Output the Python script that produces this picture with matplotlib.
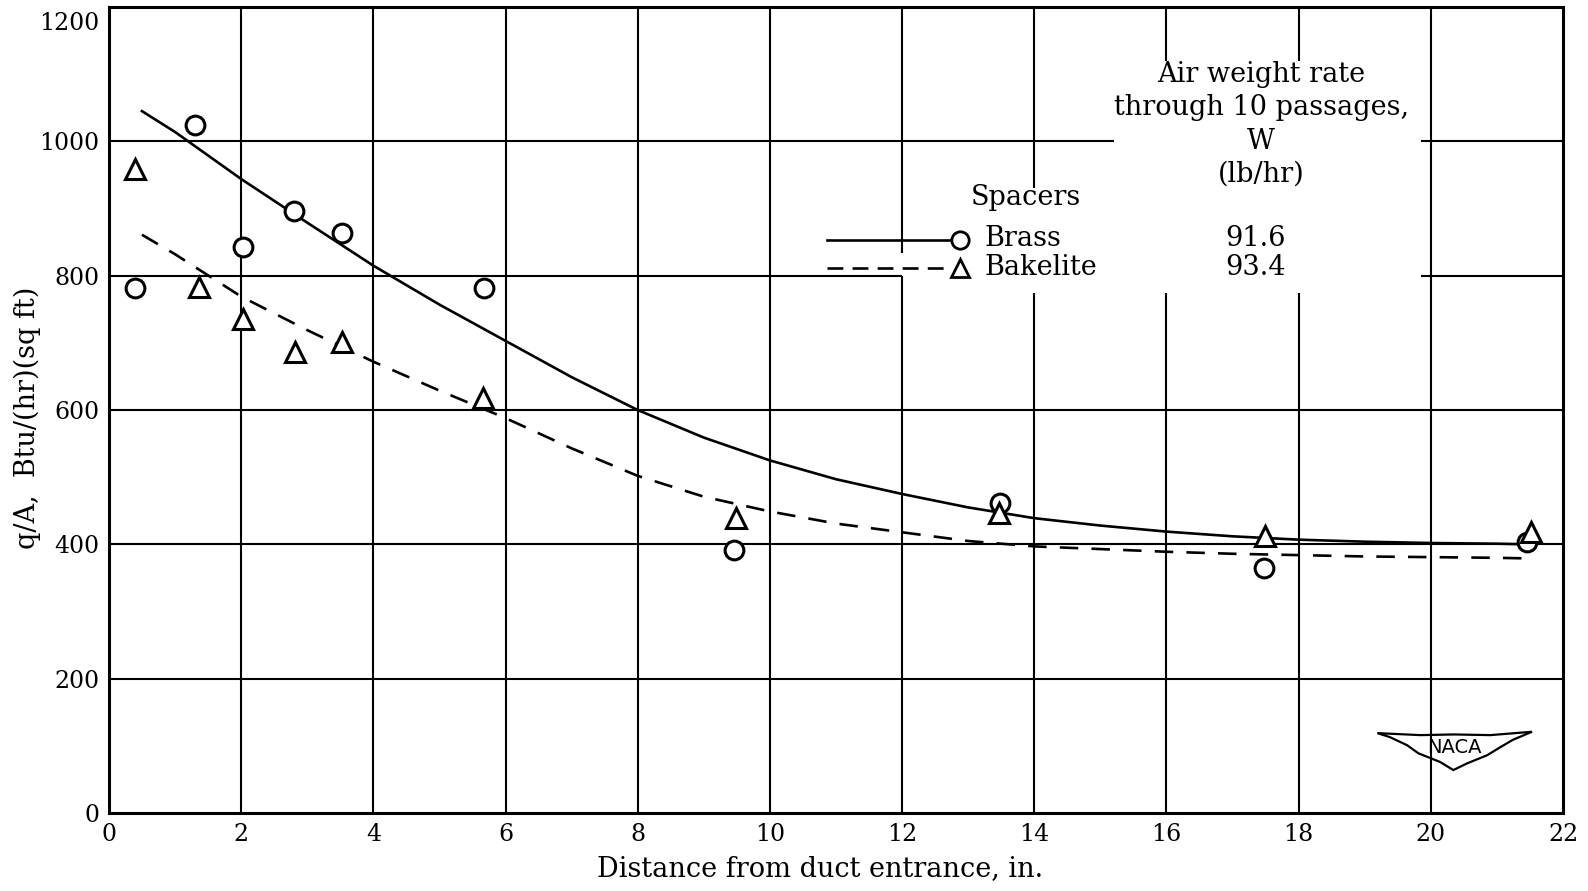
import numpy as np
import matplotlib
matplotlib.use("Agg")
import matplotlib.pyplot as plt
from matplotlib.patches import Polygon
import matplotlib.transforms as mtransforms

plt.rcParams['font.family'] = ['DejaVu Serif']

# measured points, brass spacers (circles)
brass_x = [0.40, 1.30, 2.03, 2.80, 3.53, 5.68, 9.46, 13.48, 17.47, 21.46]
brass_y = [782, 1024, 843, 896, 863, 781, 392, 461, 365, 404]

# measured points, bakelite spacers (triangles)
bake_x = [0.40, 1.36, 2.03, 2.81, 3.53, 5.66, 9.48, 13.46, 17.49, 21.52]
bake_y = [959, 783, 735, 686, 701, 618, 440, 446, 412, 418]

# faired curves
fit_x = [0.5, 1, 2, 3, 4, 5, 6, 7, 8, 9, 10, 11, 12, 13, 14, 15, 16, 17,
         18, 19, 20, 21, 21.5]
brass_fit = [1045, 1014, 944, 879, 815, 757, 703, 649, 600, 559, 525, 497,
             475, 455, 439, 428, 419, 412, 407, 404, 402, 401, 400]
bake_fit = [861, 832, 769, 719, 672, 629, 588, 543, 502, 471, 449, 431,
            418, 405, 397, 393, 389, 386, 384, 382, 381, 380, 379]

air_rate = ["91.6", "93.4"]

fig = plt.figure(figsize=(15.88, 8.91), dpi=100)
ax = fig.add_axes([0.0686, 0.0875, 0.9157, 0.9046])
ax.set_xlim(0, 22)
ax.set_ylim(0, 1200)

# grid drawn by hand because the key blanks part of it
gkw = dict(color='black', lw=1.5, zorder=1)
for xv in [2, 4, 6, 8, 10, 20]:
    ax.vlines(xv, 0, 1200, **gkw)
ax.vlines(12, 0, 800, **gkw)
ax.vlines(12, 834, 1200, **gkw)
ax.vlines(14, 0, 774, **gkw)
ax.vlines(14, 931, 1200, **gkw)
for xv in [16, 18]:
    ax.vlines(xv, 0, 774, **gkw)
    ax.vlines(xv, 1119, 1200, **gkw)
for yv in [200, 400, 600]:
    ax.hlines(yv, 0, 22, **gkw)
ax.hlines(800, 0, 12, **gkw)
ax.hlines(800, 19.85, 22, **gkw)
ax.hlines(1000, 0, 15.2, **gkw)
ax.hlines(1000, 19.85, 22, **gkw)

ax.plot(fit_x, brass_fit, 'k-', lw=1.9, zorder=3)
ax.plot(fit_x, bake_fit, 'k--', lw=1.9, dashes=(7, 5), zorder=3)
ax.plot(brass_x, brass_y, 'o', ms=13.5, mfc='white', mec='black', mew=2.2, zorder=4)
ax.plot(bake_x, bake_y, '^', ms=14, mfc='white', mec='black', mew=2.2, zorder=4)

# key
fs = 19.5
ax.text(17.43, 1025, "Air weight rate\nthrough 10 passages,\nW\n(lb/hr)",
        ha='center', va='center', fontsize=fs, linespacing=1.3, zorder=5)
ax.text(13.87, 916, "Spacers", ha='center', va='center', fontsize=fs, zorder=5)
ax.plot([10.87, 12.76], [853, 853], 'k-', lw=1.9, zorder=5)
ax.plot([10.87, 12.76], [812, 812], 'k--', lw=1.9, dashes=(6, 3.5), zorder=5)
ax.plot(12.88, 853, 'o', ms=12.5, mfc='white', mec='black', mew=2, zorder=5)
ax.plot(12.88, 812, '^', ms=12.5, mfc='white', mec='black', mew=2, zorder=5)
ax.text(13.25, 856, "Brass", ha='left', va='center', fontsize=fs, zorder=5)
ax.text(13.25, 812, "Bakelite", ha='left', va='center', fontsize=fs, zorder=5)
ax.text(17.35, 856, air_rate[0], ha='center', va='center', fontsize=fs, zorder=5)
ax.text(17.35, 812, air_rate[1], ha='center', va='center', fontsize=fs, zorder=5)

# NACA wing badge
wing = [(19.19, 119), (19.84, 116), (20.35, 117), (20.90, 116), (21.53, 121),
        (21.24, 109), (21.05, 98), (20.85, 86), (20.55, 74), (20.34, 64),
        (20.14, 76), (19.81, 89), (19.64, 101), (19.38, 113)]
ax.add_patch(Polygon(wing, closed=True, fill=False, ec='black', lw=1.6, zorder=5))
ax.text(20.35, 97, "NACA", ha='center', va='center', fontsize=14,
        family='DejaVu Sans', zorder=6)

ax.set_xticks(np.arange(0, 23, 2))
ax.set_yticks(np.arange(0, 1201, 200))
ax.tick_params(length=0, labelsize=17, pad=7)
for s in ax.spines.values():
    s.set_linewidth(2.2)
ax.set_xlabel("Distance from duct entrance, in.", fontsize=fs)
ax.set_ylabel("q/A,  Btu/(hr)(sq ft)", fontsize=fs)
ax.xaxis.set_label_coords(0.489, -0.052)
ax.yaxis.set_label_coords(-0.047, 0.49)

# top tick label sits a little below the frame, as in the original
shift = mtransforms.ScaledTranslation(0, -10 / 72, fig.dpi_scale_trans)
top_lab = ax.get_yticklabels()[-1]
top_lab.set_transform(top_lab.get_transform() + shift)

fig.savefig("out.png", dpi=100)
